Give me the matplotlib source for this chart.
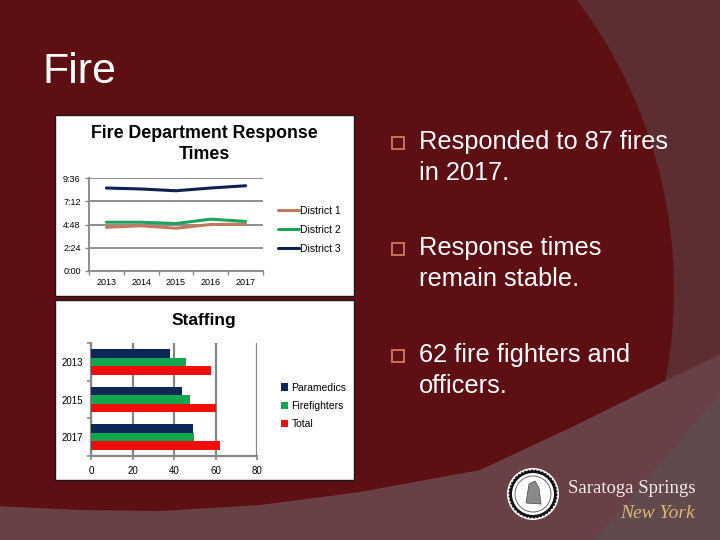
import matplotlib
matplotlib.use('Agg')
import matplotlib.pyplot as plt
import numpy as np
from matplotlib.patches import Rectangle, Polygon, Circle
from matplotlib.ticker import FuncFormatter

plt.rcParams['font.family'] = ['Liberation Sans', 'DejaVu Sans']

# ---------------- data ----------------
line_years = ['2013', '2014', '2015', '2016', '2017']
district1 = ['4:31', '4:40', '4:25', '4:48', '4:50']
district2 = ['5:02', '5:02', '4:54', '5:21', '5:07']
district3 = ['8:34', '8:28', '8:17', '8:34', '8:48']
line_names = ['District 1', 'District 2', 'District 3']
line_ticks = ['0:00', '2:24', '4:48', '7:12', '9:36']

staff_years = ['2013', '2015', '2017']
paramedics = [38, 44, 49]
firefighters = [46, 47.5, 49.5]
total = [58, 60, 62]
staff_names = ['Paramedics', 'Firefighters', 'Total']
staff_ticks = [0, 20, 40, 60, 80]

bullets = [('Responded to 87 fires', 'in 2017.'),
           ('Response times', 'remain stable.'),
           ('62 fire fighters and', 'officers.')]


def to_sec(s):
    m, ss = s.split(':')
    return int(m) * 60 + int(ss)


def fmt_sec(v, pos=None):
    v = int(round(v))
    return f'{v // 60}:{v % 60:02d}'


W, H = 720, 540
fig = plt.figure(figsize=(7.2, 5.4), dpi=100)
bg = fig.add_axes([0, 0, 1, 1])
bg.set_xlim(0, W)
bg.set_ylim(H, 0)
bg.axis('off')

# ---------------- background ----------------
bg.add_patch(Rectangle((0, 0), W, H, color='#5d0f14', zorder=0))
cx, cy, r = 192, 290, 482
t = np.linspace(-1.0, 1.0, 300)
arc = np.column_stack([cx + r * np.cos(t), cy + r * np.sin(t)])
bg.add_patch(Polygon(np.vstack([arc, [[800, 700], [800, -120]]]),
                     closed=True, color='#5c2e31', lw=0, zorder=1))
bx = [-5, 80, 160, 260, 360, 480, 572, 665, 725]
by = [506, 510, 511, 505, 492, 470, 427, 381, 352]
bg.add_patch(Polygon(np.vstack([np.column_stack([bx, by]), [[725, 600], [-5, 600]]]),
                     closed=True, color='#694045', lw=0, zorder=2))
bg.add_patch(Polygon([[590, 545], [725, 388], [725, 545]], closed=True,
                     color='#614a4d', lw=0, zorder=3))

# title
bg.text(43, 83, 'Fire', fontsize=31, color='white', va='baseline', zorder=5)

# bullets
bullet_y = [149, 255, 362]
for (l1, l2), yb in zip(bullets, bullet_y):
    bg.add_patch(Rectangle((392, yb - 12), 12, 12, fill=False,
                           edgecolor='#c8725c', lw=1.4, zorder=5))
    bg.text(419, yb, l1, fontsize=18.3, color='white', va='baseline', zorder=5)
    bg.text(419, yb + 31, l2, fontsize=18.3, color='white', va='baseline', zorder=5)

# chart panels
bg.add_patch(Rectangle((55, 115), 299, 181, facecolor='white',
                       edgecolor='#1a1a1a', lw=1, zorder=4))
bg.add_patch(Rectangle((55, 300), 299, 180, facecolor='white',
                       edgecolor='#1a1a1a', lw=1, zorder=4))
bg.text(204, 138, 'Fire Department Response', fontsize=12.8, fontweight='bold',
        ha='center', va='baseline', zorder=5)
bg.text(204, 159, 'Times', fontsize=12.8, fontweight='bold',
        ha='center', va='baseline', zorder=5)
bg.text(204, 325, 'Staffing', fontsize=12.5, fontweight='bold',
        ha='center', va='baseline', zorder=5)

# logo
lcx, lcy = 533, 494
bg.add_patch(Circle((lcx, lcy), 26, facecolor='white', edgecolor='none', zorder=5))
bg.add_patch(Circle((lcx, lcy), 24.5, facecolor='#111111', edgecolor='white',
                    lw=1.2, linestyle=(0, (1, 1.2)), zorder=6))
bg.add_patch(Circle((lcx, lcy), 21, facecolor='white', edgecolor='none', zorder=7))
bg.add_patch(Circle((lcx, lcy), 18, facecolor='none', edgecolor='#555555',
                    lw=0.6, zorder=8))
bg.add_patch(Polygon([[lcx - 7, lcy + 9], [lcx - 4, lcy - 10], [lcx + 2, lcy - 13],
                      [lcx + 6, lcy - 6], [lcx + 8, lcy + 10]], closed=True,
                     facecolor='#8a8a8a', edgecolor='#444444', lw=0.5, zorder=8))
bg.text(568, 493, 'Saratoga Springs', family='Liberation Serif', fontsize=13.5,
        color='#f2eaea', va='baseline', zorder=6)
bg.text(657, 518, 'New York', family='Liberation Serif', fontstyle='italic',
        fontsize=14, color='#d8b878', ha='center', va='baseline', zorder=6)

GRAY = '#868686'

# ---------------- line chart ----------------
ax1 = fig.add_axes([89 / W, 1 - 271 / H, 174 / W, 93 / H])
ax1.set_facecolor('none')
x = np.arange(len(line_years))
colors = ['#c27a5e', '#1fa35a', '#0f2350']
for vals, c, name in zip([district1, district2, district3], colors, line_names):
    ax1.plot(x, [to_sec(v) for v in vals], color=c, lw=2.2, label=name,
             solid_capstyle='round', zorder=3)
ax1.set_xlim(-0.5, len(line_years) - 0.5)
ax1.set_ylim(0, to_sec(line_ticks[-1]))
ax1.set_yticks([to_sec(v) for v in line_ticks])
ax1.yaxis.set_major_formatter(FuncFormatter(fmt_sec))
ax1.set_xticks(x)
ax1.set_xticklabels(line_years)
ax1.set_xticks(np.arange(-0.5, len(line_years)), minor=True)
ax1.yaxis.grid(True, color=GRAY, lw=1.3)
ax1.set_axisbelow(True)
for s in ['top', 'right']:
    ax1.spines[s].set_visible(False)
for s in ['left', 'bottom']:
    ax1.spines[s].set_color(GRAY)
    ax1.spines[s].set_linewidth(1.3)
ax1.tick_params(axis='x', which='major', length=0, labelsize=6.5, pad=5)
ax1.tick_params(axis='x', which='minor', length=3, color=GRAY, width=1)
ax1.tick_params(axis='y', length=3, color=GRAY, width=1, labelsize=6.5, pad=3)
ax1.legend(loc='center left', bbox_to_anchor=(1.086, 0.441), frameon=False,
           fontsize=7.5, handlelength=2.0, handletextpad=0.15,
           labelspacing=0.85, borderpad=0, borderaxespad=0)

# ---------------- bar chart ----------------
ax2 = fig.add_axes([91 / W, 1 - 456 / H, 166 / W, 113 / H])
ax2.set_facecolor('none')
y = np.arange(len(staff_years))
hb = 0.23
bar_colors = ['#0d2759', '#12a651', '#f20d0d']
for vals, off, c, name in zip([paramedics, firefighters, total], [-0.23, 0.0, 0.23],
                              bar_colors, staff_names):
    ax2.barh(y + off, vals, height=hb, color=c, label=name, zorder=3)
ax2.set_ylim(len(staff_years) - 0.5, -0.5)
ax2.set_xlim(staff_ticks[0], staff_ticks[-1])
ax2.set_xticks(staff_ticks)
ax2.set_yticks(y)
ax2.set_yticklabels(staff_years)
ax2.set_yticks(np.arange(-0.5, len(staff_years)), minor=True)
ax2.xaxis.grid(True, color=GRAY, lw=1.6)
ax2.set_axisbelow(True)
for s in ['top', 'right']:
    ax2.spines[s].set_visible(False)
for s in ['left', 'bottom']:
    ax2.spines[s].set_color(GRAY)
    ax2.spines[s].set_linewidth(1.6)
ax2.tick_params(axis='y', which='major', length=0, labelsize=7, pad=6)
ax2.tick_params(axis='y', which='minor', length=3, color=GRAY, width=1.2)
ax2.tick_params(axis='x', length=3, color=GRAY, width=1.2, labelsize=7, pad=4)
ax2.legend(loc='center left', bbox_to_anchor=(1.145, 0.442), frameon=False,
           fontsize=7.5, handlelength=0.7, handleheight=0.7, handletextpad=0.3,
           labelspacing=0.8, borderpad=0, borderaxespad=0)

fig.savefig('out.png', dpi=100)
